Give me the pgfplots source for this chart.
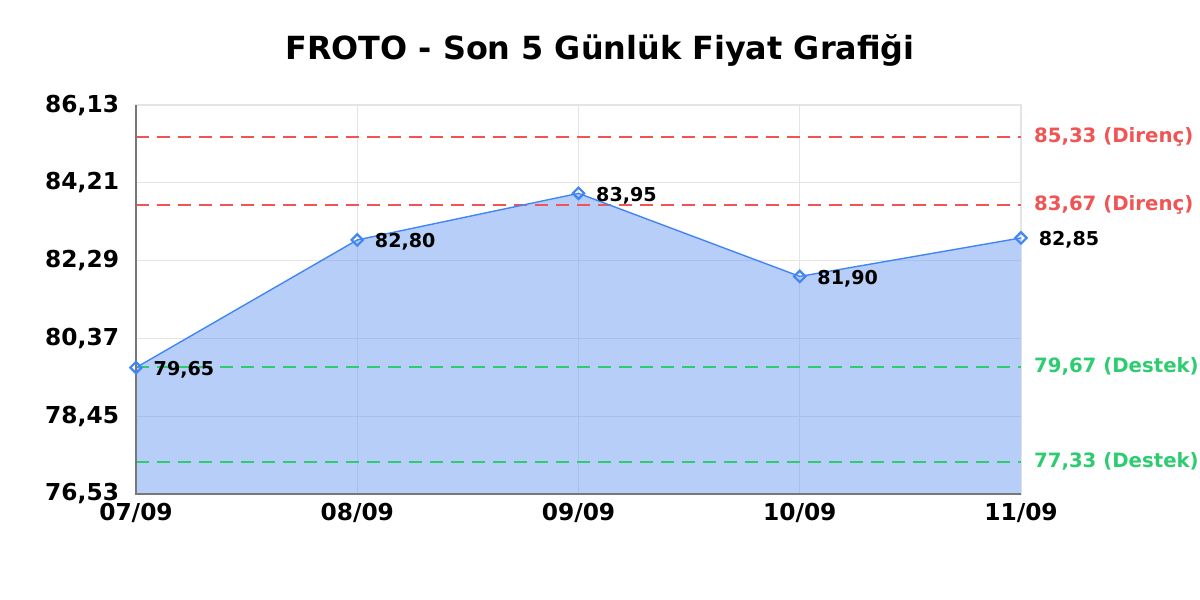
\documentclass[border=0pt]{standalone}
\usepackage{fontspec}
\setmainfont{DejaVu Sans}
\usepackage{pgfplots}
\pgfplotsset{compat=1.18}
\usepackage{pgfplotstable}

\definecolor{lineblue}{RGB}{66,133,244}
\definecolor{areablue}{RGB}{183,206,248}
\definecolor{areagrid}{RGB}{168,192,234}
\definecolor{resred}{RGB}{240,84,84}
\definecolor{supgreen}{RGB}{46,204,113}
\definecolor{gridgray}{RGB}{228,228,228}
\definecolor{axisgray}{RGB}{120,120,120}

\pgfplotstableread{
x y lab
0 79.65 79,65
1 82.80 82,80
2 83.95 83,95
3 81.90 81,90
4 82.85 82,85
}\prices

\begin{document}
\begin{tikzpicture}
\path[use as bounding box] (-68bp,-53bp) rectangle (532bp,247bp);
\begin{axis}[
    at={(0,0)}, anchor=origin,
    scale only axis,
    width=442.5bp, height=194.5bp,
    xmin=0, xmax=4,
    ymin=76.53, ymax=86.13,
    xtick={0,1,2,3,4},
    xticklabels={07/09,08/09,09/09,10/09,11/09},
    ytick={76.53,78.45,80.37,82.29,84.21,86.13},
    yticklabels={{76,53},{78,45},{80,37},{82,29},{84,21},{86,13}},
    major tick length=0pt,
    grid=major,
    major grid style={draw=gridgray, line width=0.6bp},
    axis line style={draw=gridgray, line width=0.6bp},
    ticklabel style={font=\bfseries\fontsize{11.7}{14}\selectfont},
    yticklabel style={xshift=-5bp},
    xticklabel style={yshift=-1bp},
    clip=false,
    level/.style={dash pattern=on 6.5bp off 4bp, line width=1bp},
  ]
  % area under the price line
  \addplot[draw=none, fill=areablue] table[x=x, y=y] {\prices} \closedcycle;

  % grid lines seen through the area
  \draw[areagrid, line width=0.6bp] (axis cs:1,76.53) -- (axis cs:1,82.80);
  \draw[areagrid, line width=0.6bp] (axis cs:2,76.53) -- (axis cs:2,83.95);
  \draw[areagrid, line width=0.6bp] (axis cs:3,76.53) -- (axis cs:3,81.90);
  \draw[areagrid, line width=0.6bp] (axis cs:0,78.45) -- (axis cs:4,78.45);
  \draw[areagrid, line width=0.6bp] (axis cs:0.2286,80.37) -- (axis cs:4,80.37);
  \draw[areagrid, line width=0.6bp] (axis cs:0.838,82.29) -- (axis cs:2.810,82.29);
  \draw[areagrid, line width=0.6bp] (axis cs:3.411,82.29) -- (axis cs:4,82.29);

  % support / resistance levels
  \addplot[resred, level] coordinates {(0,85.33) (4,85.33)};
  \addplot[resred, level] coordinates {(0,83.67) (4,83.67)};
  \addplot[supgreen, level] coordinates {(0,79.67) (4,79.67)};
  \addplot[supgreen, level] coordinates {(0,77.33) (4,77.33)};

  % left and bottom axis lines
  \draw[axisgray, line width=0.7bp] (rel axis cs:0,1) -- (rel axis cs:0,0) -- (rel axis cs:1,0);

  % price line
  \addplot[lineblue, line width=0.7bp, mark=square, mark size=2bp,
    mark options={solid, rotate=45, fill=white, draw=lineblue, line width=1.1bp},
    nodes near coords, point meta=explicit symbolic,
    every node near coord/.style={anchor=west, xshift=5bp, yshift=-1bp, text=black,
      font=\bfseries\fontsize{9.6}{11}\selectfont}]
    table[x=x, y=y, meta=lab] {\prices};

  % level labels
  \node[anchor=west, text=resred, font=\bfseries\fontsize{9.9}{11}\selectfont, xshift=3bp] at (axis cs:4,85.33) {85,33 (Direnç)};
  \node[anchor=west, text=resred, font=\bfseries\fontsize{9.9}{11}\selectfont, xshift=3bp] at (axis cs:4,83.67) {83,67 (Direnç)};
  \node[anchor=west, text=supgreen, font=\bfseries\fontsize{9.9}{11}\selectfont, xshift=3bp] at (axis cs:4,79.67) {79,67 (Destek)};
  \node[anchor=west, text=supgreen, font=\bfseries\fontsize{9.9}{11}\selectfont, xshift=3bp] at (axis cs:4,77.33) {77,33 (Destek)};
\end{axis}
\node[font=\bfseries\fontsize{16}{19}\selectfont] at (232bp,222bp) {FROTO - Son 5 Günlük Fiyat Grafiği};
\end{tikzpicture}
\end{document}
